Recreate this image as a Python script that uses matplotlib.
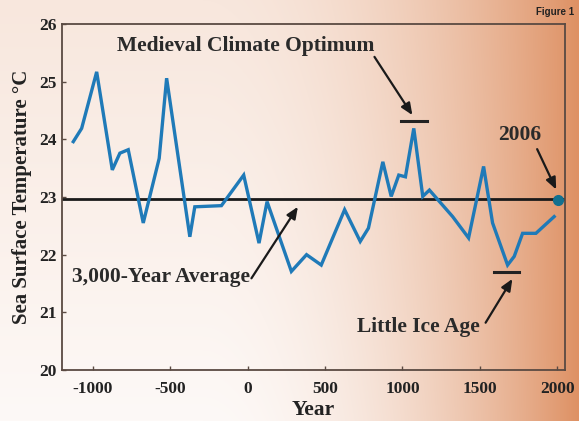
import numpy as np
import matplotlib
matplotlib.use("Agg")
import matplotlib.pyplot as plt

# ---- data ----
years = [-1127, -1073, -976, -875, -826, -772, -675, -572, -524, -374, -342, -170,
         -26, 73, 125, 282, 380, 475, 626, 727, 780, 873, 927, 976, 1019, 1073,
         1131, 1174, 1249, 1324, 1427, 1524, 1582, 1679, 1722, 1776, 1862, 1980]
temps = [23.96, 24.19, 25.17, 23.47, 23.76, 23.82, 22.55, 23.67, 25.06, 22.31, 22.83, 22.85,
         23.38, 22.20, 22.92, 21.71, 22.00, 21.82, 22.78, 22.23, 22.46, 23.61, 23.01, 23.38, 23.35, 24.19,
         23.01, 23.12, 22.89, 22.66, 22.29, 23.53, 22.55, 21.82, 21.97, 22.37, 22.37, 22.66]
average_temp = 22.97
point_2006 = (2006, 22.95)
medieval_bar = (991, 1156, 24.31)
little_ice_bar = (1593, 1754, 21.70)
xticks = [-1000, -500, 0, 500, 1000, 1500, 2000]
yticks = [20, 21, 22, 23, 24, 25, 26]

W, H, DPI = 579, 421, 100
fig = plt.figure(figsize=(W / DPI, H / DPI), dpi=DPI)

# ---- background gradient ----
u = np.linspace(0, 1, W)[None, :]
v = np.linspace(0, 1, H)[:, None]
left = np.array([248, 231, 221]) * (1 - v[..., None]) + np.array([253, 249, 247]) * v[..., None]
right = np.array([222, 145, 100]) * np.ones_like(v[..., None])
t = np.clip((u - 0.35) / 0.65, 0, 1) ** 2.0
t = t[..., None] * np.ones((H, 1, 1))
img = (left * (1 - t) + right * t) / 255.0
bg = fig.add_axes([0, 0, 1, 1])
bg.imshow(img, aspect="auto", extent=[0, 1, 0, 1], zorder=0)
bg.axis("off")

ax = fig.add_axes([62 / W, 51 / H, (565 - 62) / W, (370 - 24) / H])
ax.patch.set_alpha(0)

serif = ["Liberation Serif", "DejaVu Serif"]
frame = "#5a4a42"

ax.plot(years, temps, color="#1f7ab8", lw=2.4, solid_joinstyle="miter", zorder=3)
ax.axhline(average_temp, color="#1a1a1a", lw=2.0, zorder=2)
ax.plot(*point_2006, "o", color="#12708f", ms=7, zorder=4, clip_on=False)
ax.plot(medieval_bar[:2], [medieval_bar[2]] * 2, color="#222222", lw=2.2)
ax.plot(little_ice_bar[:2], [little_ice_bar[2]] * 2, color="#222222", lw=2.2)

ax.set_xlim(-1200, 2050)
ax.set_ylim(20, 26)
ax.set_xticks(xticks)
ax.set_yticks(yticks)
ax.set_xticklabels([str(x) for x in xticks], fontfamily=serif, fontweight="bold", fontsize=12.5, color="#222222")
ax.set_yticklabels([str(y) for y in yticks], fontfamily=serif, fontweight="bold", fontsize=12.5, color="#222222")
ax.tick_params(direction="in", length=3, width=1, color=frame)
ax.tick_params(axis="x", pad=8)
ax.tick_params(axis="y", pad=4)
for s in ax.spines.values():
    s.set_color(frame)
    s.set_linewidth(1.3)

ax.set_xlabel("Year", fontfamily=serif, fontweight="bold", fontsize=15.5, color="#222222", labelpad=2)
ax.set_ylabel("Sea Surface Temperature °C", fontfamily=serif, fontweight="bold", fontsize=15,
              color="#222222", labelpad=5)

afont = dict(fontfamily=serif, fontweight="bold", fontsize=15.5, color="#2a2a2a")
arrow = dict(arrowstyle="-|>,head_length=0.7,head_width=0.3", color="#1a1a1a", lw=1.6,
             shrinkA=0, shrinkB=0)

ax.text(-13, 25.62, "Medieval Climate Optimum", ha="center", va="center", **afont)
ax.annotate("", xy=(1064, 24.42), xytext=(819, 25.43), arrowprops=arrow)

ax.text(-561, 21.62, "3,000-Year Average", ha="center", va="center", **afont)
ax.annotate("", xy=(324, 22.83), xytext=(24, 21.59), arrowprops=arrow)

ax.text(1103, 20.75, "Little Ice Age", ha="center", va="center", **afont)
ax.annotate("", xy=(1710, 21.58), xytext=(1537, 20.82), arrowprops=arrow)

ax.text(1754, 24.08, "2006", ha="center", va="center", **afont)
ax.annotate("", xy=(1993, 23.13), xytext=(1870, 23.83), arrowprops=arrow)

fig.text(555 / W, 1 - 12 / H, "Figure 1", ha="center", va="center", fontsize=7,
         fontweight="bold", color="#222222", family="Liberation Sans")

fig.savefig("out.png", dpi=DPI)
